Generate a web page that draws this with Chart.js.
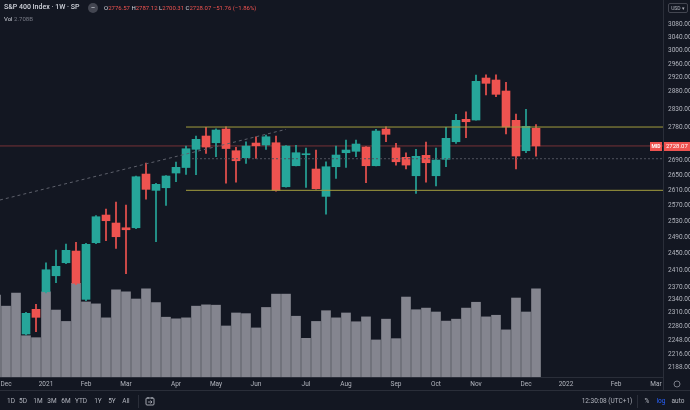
<!DOCTYPE html>
<html>
<head>
<meta charset="utf-8">
<script src="https://cdn.jsdelivr.net/npm/chart.js@4.4.0/dist/chart.umd.min.js"></script>
<style>
  html, body { margin: 0; padding: 0; background: #131722; }
  #wrap { position: relative; width: 690px; height: 410px; overflow: hidden; font-family: Roboto, "Liberation Sans", sans-serif; }
  #chart { position: absolute; left: 0; top: 0; }
  .txt { position: absolute; white-space: nowrap; line-height: 1; }
  .c { transform: translateX(-50%); }
  .title { left: 4px; top: 4px; font-size: 7px; color: #d1d4dc; font-weight: 500; }
  .dot { left: 88px; top: 3px; width: 10px; height: 10px; border-radius: 50%; background: #434651; color: #d1d4dc; font-size: 8px; text-align: center; line-height: 9px; }
  .ohlc { left: 104px; top: 5px; font-size: 6px; color: #ef5350; }
  .ohlc i { font-style: normal; color: #d1d4dc; }
  .vol { left: 4px; top: 16px; font-size: 6px; color: #d1d4dc; }
  .vol span { color: #787b86; }
  .usd { left: 668px; top: 3px; width: 18px; height: 8px; border: 1px solid #434651; border-radius: 2px; font-size: 5px; color: #b2b5be; text-align: center; line-height: 8px; }
  #bar { position: absolute; left: 0; top: 390px; width: 690px; height: 20px; border-top: 1px solid #2a2e39; }
  .tb { top: 7px; font-size: 6.5px; color: #b2b5be; }
  .sep { position: absolute; top: 4px; width: 1px; height: 13px; background: #2a2e39; }
</style>
</head>
<body>
<div id="wrap">
  <canvas id="chart" width="690" height="410"></canvas>
  <div class="txt title">S&amp;P 400 Index · 1W · SP</div>
  <div class="txt dot">−</div>
  <div class="txt ohlc"><i>O</i>2776.57 <i>H</i>2787.12 <i>L</i>2700.31 <i>C</i>2728.07 −51.76 (−1.86%)</div>
  <div class="txt vol">Vol <span>2.708B</span></div>
  <div class="txt usd">USD ▾</div>
  <div id="bar">
    <div class="txt tb c" style="left:11px">1D</div>
    <div class="txt tb c" style="left:23px">5D</div>
    <div class="txt tb c" style="left:38px">1M</div>
    <div class="txt tb c" style="left:52px">3M</div>
    <div class="txt tb c" style="left:66px">6M</div>
    <div class="txt tb c" style="left:81px">YTD</div>
    <div class="txt tb c" style="left:98px">1Y</div>
    <div class="txt tb c" style="left:112px">5Y</div>
    <div class="txt tb c" style="left:126px">All</div>
    <div class="sep" style="left:138px"></div>
    <svg style="position:absolute;left:145px;top:5px" width="10" height="10" viewBox="0 0 10 10">
      <rect x="1" y="2" width="8" height="7" rx="1" fill="none" stroke="#b2b5be" stroke-width="0.9"/>
      <line x1="3" y1="1" x2="3" y2="3" stroke="#b2b5be" stroke-width="0.9"/>
      <line x1="7" y1="1" x2="7" y2="3" stroke="#b2b5be" stroke-width="0.9"/>
      <path d="M3 6 H7 M5.5 4.5 L7 6 L5.5 7.5" fill="none" stroke="#b2b5be" stroke-width="0.8"/>
    </svg>
    <div class="txt tb c" style="left:607px">12:30:08 (UTC+1)</div>
    <div class="sep" style="left:637px"></div>
    <div class="txt tb c" style="left:647px">%</div>
    <div class="txt tb c" style="left:661px;color:#2962ff">log</div>
    <div class="txt tb c" style="left:678px">auto</div>
  </div>
</div>
<script>
// weekly bars, x = week index (0 = week of 7 Dec 2020)
const volStart = -1;
const volume = [2.52, 2.18, 2.58, 1.27, 1.21, 2.62, 2.06, 1.71, 2.88, 2.31, 2.25, 1.82, 2.68, 2.62, 2.40,
  2.71, 2.29, 1.84, 1.79, 1.82, 2.18, 2.22, 2.21, 1.57, 1.97, 1.95, 1.51, 2.14, 2.55, 2.55, 1.87, 1.19,
  1.71, 2.04, 1.82, 1.97, 1.70, 1.85, 1.14, 1.78, 1.18, 2.46, 2.07, 2.12, 2.00, 1.72, 1.78, 2.12, 2.30,
  1.85, 1.90, 1.45, 2.43, 2.00, 2.71];

const candleStart = 2;
const opens = [2261.7, 2318.0, 2359.0, 2396.9, 2428.2, 2456.7, 2341.2, 2477.2, 2546.5, 2526.3, 2514.4,
  2514.4, 2652.7, 2609.9, 2616.7, 2655.4, 2670.0, 2718.9, 2755.2, 2736.8, 2774.4, 2715.1, 2696.2, 2736.0,
  2730.5, 2736.8, 2619.3, 2674.8, 2704.3, 2666.0, 2594.3, 2672.1, 2709.7, 2713.5, 2725.1, 2674.8, 2774.4,
  2723.0, 2697.3, 2648.2, 2702.6, 2648.2, 2691.9, 2739.5, 2801.4, 2799.5, 2919.2, 2913.4, 2881.6, 2798.6,
  2715.1, 2776.57];
const highs = [2311.1, 2329.6, 2428.2, 2459.2, 2473.9, 2478.1, 2475.5, 2545.0, 2561.7, 2579.7, 2572.0,
  2647.5, 2682.0, 2628.2, 2648.5, 2684.6, 2727.8, 2755.2, 2779.2, 2775.0, 2780.8, 2724.3, 2739.5, 2753.2,
  2757.9, 2755.2, 2729.0, 2729.7, 2722.4, 2717.0, 2685.4, 2727.8, 2744.2, 2744.2, 2726.0, 2773.6, 2780.8,
  2735.2, 2709.7, 2718.9, 2738.7, 2722.4, 2779.2, 2815.4, 2822.7, 2927.9, 2928.8, 2928.8, 2906.7, 2816.3,
  2829.5, 2787.12];
const lows = [2259.4, 2266.8, 2356.0, 2380.3, 2426.0, 2376.0, 2338.0, 2475.0, 2482.1, 2463.3, 2401.7,
  2512.0, 2587.4, 2479.6, 2571.2, 2632.4, 2651.9, 2651.0, 2708.0, 2698.9, 2629.0, 2631.6, 2681.1, 2694.6,
  2718.9, 2608.0, 2618.0, 2674.0, 2617.8, 2613.0, 2549.0, 2641.4, 2670.5, 2698.9, 2629.8, 2674.0, 2739.5,
  2676.0, 2666.0, 2602.1, 2631.6, 2621.2, 2672.1, 2735.2, 2750.5, 2799.0, 2870.1, 2865.3, 2760.7, 2666.0,
  2709.7, 2700.31];
const closes = [2308.8, 2299.6, 2411.3, 2419.5, 2458.4, 2378.9, 2473.2, 2542.2, 2532.1, 2492.0, 2509.4,
  2645.6, 2612.5, 2625.6, 2647.5, 2670.5, 2720.5, 2746.1, 2725.1, 2771.7, 2721.0, 2688.1, 2727.8, 2728.6,
  2753.2, 2609.9, 2727.8, 2709.7, 2707.0, 2614.1, 2672.1, 2703.5, 2717.0, 2733.3, 2674.8, 2768.9, 2759.8,
  2685.4, 2676.6, 2700.0, 2682.8, 2690.0, 2748.8, 2798.6, 2794.7, 2909.6, 2903.8, 2872.1, 2780.0, 2700.8,
  2781.9, 2728.07];

const priceTicks = [2188, 2216, 2248, 2280, 2310, 2340, 2370, 2410, 2450, 2490, 2530, 2570, 2610, 2650,
  2690, 2780, 2830, 2880, 2920, 2960, 3000, 3040, 3080];
const monthWeeks = [0, 4, 8, 12, 17, 21, 25, 30, 34, 39, 43, 47, 52, 56, 61, 65];
const monthLabels = ['Dec', '2021', 'Feb', 'Mar', 'Apr', 'May', 'Jun', 'Jul', 'Aug', 'Sep', 'Oct', 'Nov', 'Dec', '2022', 'Feb', 'Mar'];

// drawings
const resistance = 2780;
const support = 2610;
const levelsFrom = 18;
const dottedLevel = 2693.5;
const dottedFrom = 18.6;
const lastPrice = 2728.07;
const trendStart = [-0.6, 2585];
const trendEnd = [28, 2773.6];

const UP = '#26a69a', DOWN = '#ef5350';
const candleColors = closes.map((c, i) => c >= opens[i] ? UP : DOWN);

const hline = (y, from, color, dash, order) => ({
  type: 'line', data: [{x: from, y}, {x: 70, y}], yAxisID: 'y',
  borderColor: color, borderWidth: 1, borderDash: dash, pointRadius: 0, order
});

const overlay = {
  id: 'overlay',
  beforeDraw(c) {
    const ctx = c.ctx;
    ctx.save();
    ctx.fillStyle = '#131722';
    ctx.fillRect(0, 0, c.width, c.height);
    ctx.restore();
  },
  afterDraw(c) {
    const ctx = c.ctx, a = c.chartArea;
    const py = Math.round(c.scales.y.getPixelForValue(lastPrice));
    ctx.save();
    ctx.strokeStyle = '#2a2e39';
    ctx.beginPath();
    ctx.moveTo(a.right + 0.5, a.bottom);
    ctx.lineTo(a.right + 0.5, 390);
    ctx.stroke();
    // gear
    ctx.strokeStyle = '#787b86';
    ctx.beginPath();
    ctx.arc(677, 384, 3, 0, Math.PI * 2);
    ctx.stroke();
    // last price tags
    ctx.fillStyle = DOWN;
    ctx.fillRect(650, py - 4, 12, 9);
    ctx.fillRect(a.right + 1, py - 4, 26, 9);
    ctx.fillStyle = '#ffffff';
    ctx.textBaseline = 'middle';
    ctx.font = 'bold 5px Roboto';
    ctx.textAlign = 'center';
    ctx.fillText('MID', 656, py + 0.5);
    ctx.font = '6px Roboto';
    ctx.textAlign = 'left';
    ctx.fillText(lastPrice.toFixed(2), a.right + 3, py + 0.5);
    ctx.restore();
  }
};

new Chart(document.getElementById('chart'), {
  type: 'bar',
  data: {
    datasets: [
      {
        label: 'Volume',
        data: volume.map((v, i) => ({x: volStart + i, y: v})),
        yAxisID: 'vol', backgroundColor: '#84858f', barThickness: 9, grouped: false, order: 10
      },
      hline(lastPrice, -1, 'rgba(239,83,80,0.45)', [], 9),
      {
        label: 'Wicks',
        data: lows.map((l, i) => ({x: candleStart + i, y: [l, highs[i]]})),
        yAxisID: 'y', backgroundColor: candleColors, barThickness: 1, grouped: false, order: 8
      },
      {
        label: 'Bodies',
        data: opens.map((o, i) => ({x: candleStart + i, y: [o, closes[i]]})),
        yAxisID: 'y', backgroundColor: candleColors, barThickness: 8, grouped: false, order: 7
      },
      hline(resistance, levelsFrom, '#a39d3e', [], 5),
      hline(support, levelsFrom, '#a39d3e', [], 5),
      hline(dottedLevel, dottedFrom, '#50535e', [2, 2], 5),
      {
        type: 'line', data: [{x: trendStart[0], y: trendStart[1]}, {x: trendEnd[0], y: trendEnd[1]}],
        yAxisID: 'y', borderColor: '#5d606b', borderWidth: 1, borderDash: [3, 3], pointRadius: 0, order: 5
      }
    ]
  },
  options: {
    responsive: false,
    animation: false,
    devicePixelRatio: 1,
    layout: { padding: 0 },
    plugins: { legend: { display: false }, tooltip: { enabled: false } },
    scales: {
      x: {
        type: 'linear', min: -0.6, max: 65.7, offset: false, bounds: 'data',
        grid: { display: false, drawTicks: false },
        border: { display: true, color: '#2a2e39' },
        afterBuildTicks: s => { s.ticks = monthWeeks.map(v => ({value: v})); },
        afterFit: s => { s.height = 33; s.paddingLeft = 0; s.paddingRight = 0; },
        ticks: {
          autoSkip: false, maxRotation: 0, padding: 3, color: '#b2b5be',
          font: { size: 6.5, family: 'Roboto' },
          callback: (v, i) => monthLabels[i]
        }
      },
      y: {
        type: 'logarithmic', position: 'right', min: 2166.8, max: 3155.3, bounds: 'data',
        grid: { display: false, drawTicks: false },
        border: { display: true, color: '#2a2e39' },
        afterBuildTicks: s => { s.ticks = priceTicks.map(v => ({value: v})); },
        afterFit: s => { s.width = 27; s.paddingTop = 0; s.paddingBottom = 0; },
        ticks: {
          autoSkip: false, padding: 5, color: '#b2b5be',
          font: { size: 6.5, family: 'Roboto' },
          callback: v => Number(v).toFixed(2)
        }
      },
      vol: { type: 'linear', display: false, min: 0, max: 11.6 }
    }
  },
  plugins: [overlay]
});
</script>
</body>
</html>
